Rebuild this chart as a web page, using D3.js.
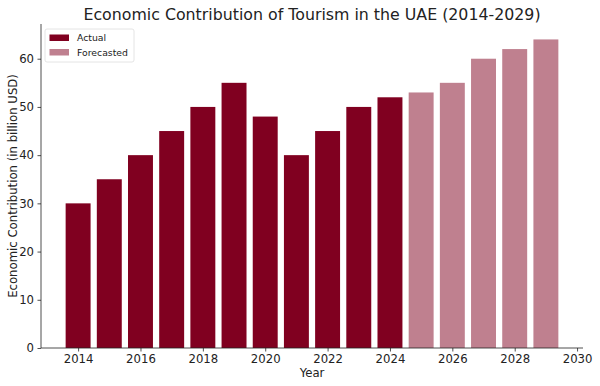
<!DOCTYPE html>
<html><head><meta charset="utf-8">
<script src="https://cdn.jsdelivr.net/npm/d3@7"></script>
<style>body{margin:0;background:#fff}text{font-family:"DejaVu Sans",sans-serif}</style>
</head><body><svg id="c" width="600" height="386"></svg>
<script>
const actualYears = [2014,2015,2016,2017,2018,2019,2020,2021,2022,2023,2024];
const actualValues = [30,35,40,45,50,55,48,40,45,50,52];
const forecastYears = [2025,2026,2027,2028,2029];
const forecastValues = [53,55,60,62,64];
const xTicks = [2014,2016,2018,2020,2022,2024,2026,2028,2030];
const yTicks = [0,10,20,30,40,50,60];

const svg = d3.select("#c");
const L = 41, R = 583, T = 24, B = 348;
const x = d3.scaleLinear().domain([2012.81, 2030.19]).range([L, R]);
const y = d3.scaleLinear().domain([0, 64*1.05]).range([B, T]);
const bw = x(2014.8) - x(2014);
const actualColor = "#800020", forecastColor = "#bf808f";

function bars(years, vals, color) {
  svg.append("g").selectAll("rect").data(years.map((d,i)=>({y:d,v:vals[i]}))).join("rect")
    .attr("x", d => x(d.y) - bw/2).attr("width", bw)
    .attr("y", d => y(d.v)).attr("height", d => y(0) - y(d.v))
    .attr("fill", color);
}
bars(actualYears, actualValues, actualColor);
bars(forecastYears, forecastValues, forecastColor);

const xa = svg.append("g").attr("transform", `translate(0,${B})`)
  .call(d3.axisBottom(x).tickValues(xTicks).tickFormat(d3.format("d")).tickSize(3.5).tickPadding(3.5));
const ya = svg.append("g").attr("transform", `translate(${L},0)`)
  .call(d3.axisLeft(y).tickValues(yTicks).tickSize(3.5).tickPadding(3.5));
[xa, ya].forEach(a => {
  a.selectAll("text").attr("font-size", 11.7).attr("fill", "#222").style("font-family", "DejaVu Sans");
  a.selectAll("line").attr("stroke", "#222").attr("stroke-width", 0.8);
  a.select(".domain").attr("stroke", "#222").attr("stroke-width", 0.8);
});
xa.select(".domain").attr("d", `M${L},0H${R}`);
ya.select(".domain").attr("d", `M0,${B}V${T}`);

svg.append("text").attr("x", (L+R)/2).attr("y", 19.5).attr("text-anchor", "middle")
  .attr("font-size", 15.8).attr("fill", "#222").text("Economic Contribution of Tourism in the UAE (2014-2029)");
svg.append("text").attr("x", (L+R)/2).attr("y", 377).attr("text-anchor", "middle")
  .attr("font-size", 11.7).attr("fill", "#222").text("Year");
svg.append("text").attr("transform", `translate(16.5,${(T+B)/2}) rotate(-90)`).attr("text-anchor", "middle")
  .attr("font-size", 11.7).attr("fill", "#222").text("Economic Contribution (in billion USD)");

const lg = svg.append("g").attr("transform", "translate(45,29)");
lg.append("rect").attr("width", 89).attr("height", 33).attr("rx", 2)
  .attr("fill", "white").attr("stroke", "#ddd").attr("stroke-width", 0.8);
[["Actual", actualColor], ["Forecasted", forecastColor]].forEach((d, i) => {
  lg.append("rect").attr("x", 4.5).attr("y", 5.5 + i*14.5).attr("width", 19.5).attr("height", 6.5).attr("fill", d[1]);
  lg.append("text").attr("x", 32).attr("y", 12.3 + i*14.5).attr("font-size", 9.3).attr("fill", "#222").text(d[0]);
});
</script></body></html>
